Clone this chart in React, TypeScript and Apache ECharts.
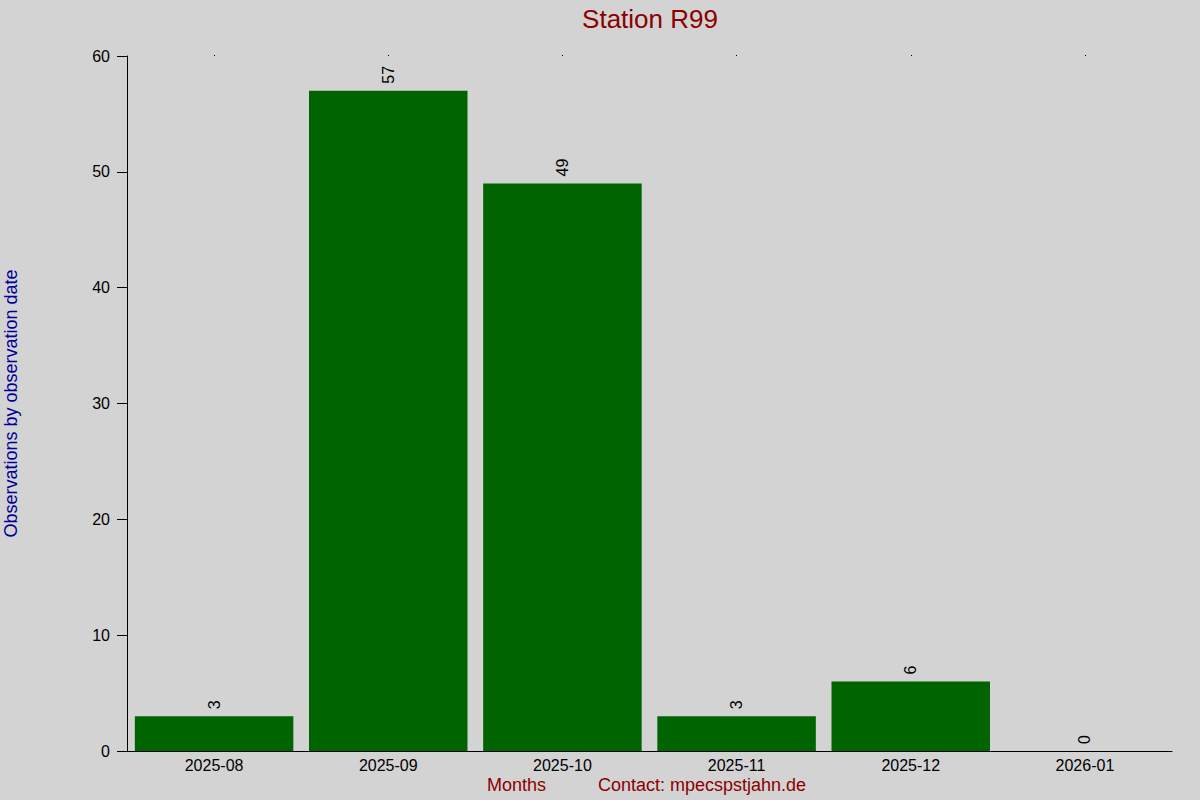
import React, { useEffect, useRef } from 'react';
import * as echarts from 'echarts';

const months = ['2025-08', '2025-09', '2025-10', '2025-11', '2025-12', '2026-01'];
const counts = [3, 57, 49, 3, 6, 0];
const yMax = 60;
const yStep = 10;

const FONT = '"Liberation Sans", Arial, sans-serif';

const App: React.FC = () => {
  const chartRef = useRef<HTMLDivElement>(null);

  useEffect(() => {
    if (!chartRef.current) return;
    const chart = echarts.init(chartRef.current, undefined, { renderer: 'svg' });

    const option = {
      animation: false,
      backgroundColor: '#d3d3d3',
      textStyle: { fontFamily: FONT },
      title: {
        text: 'Station R99',
        left: 645,
        top: 1,
        textAlign: 'center',
        textStyle: { color: '#8b0000', fontSize: 26, fontWeight: 'normal', fontFamily: FONT }
      },
      grid: { left: 127, right: 28, top: 56, bottom: 49, containLabel: false, outerBoundsMode: 'none' },
      xAxis: [
        {
          type: 'category',
          data: months,
          axisLine: { show: true, lineStyle: { color: '#000', width: 1 } },
          axisTick: { show: false },
          axisLabel: { color: '#000', fontSize: 16, margin: 6, fontFamily: FONT }
        },
        {
          type: 'category',
          data: months,
          position: 'top',
          axisLine: { show: false },
          axisTick: { show: true, alignWithLabel: true, length: 1, lineStyle: { color: '#000' } },
          axisLabel: { show: false }
        }
      ],
      yAxis: {
        type: 'value',
        min: 0,
        max: yMax,
        interval: yStep,
        name: 'Observations by observation date',
        nameLocation: 'middle',
        nameGap: 107,
        nameTextStyle: { color: '#000099', fontSize: 18, fontFamily: FONT },
        axisLine: { show: true, lineStyle: { color: '#000', width: 1 } },
        axisTick: { show: true, length: 10, lineStyle: { color: '#000' } },
        axisLabel: { color: '#000', fontSize: 16, margin: 17, fontFamily: FONT },
        splitLine: { show: false }
      },
      series: [
        {
          type: 'bar',
          data: counts,
          barCategoryGap: '9%',
          itemStyle: { color: '#006400' },
          label: {
            show: true,
            position: 'top',
            rotate: 90,
            align: 'left',
            verticalAlign: 'middle',
            distance: 7,
            color: '#000',
            fontSize: 16,
            fontFamily: FONT
          }
        }
      ],
      graphic: [
        {
          type: 'text',
          left: 487,
          top: 776,
          style: { text: 'Months', fill: '#8b0000', font: `18px ${FONT}` }
        },
        {
          type: 'text',
          left: 598,
          top: 776,
          style: { text: 'Contact: mpecspstjahn.de', fill: '#8b0000', font: `18px ${FONT}` }
        }
      ]
    };

    chart.setOption(option);
    return () => {
      chart.dispose();
    };
  }, []);

  return (
    <div
      ref={chartRef}
      style={{ position: 'fixed', left: 0, top: 0, width: 1200, height: 800 }}
    />
  );
};

export default App;
